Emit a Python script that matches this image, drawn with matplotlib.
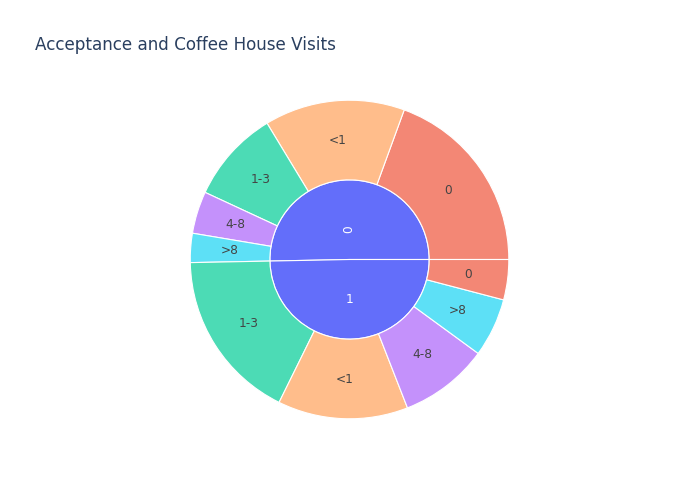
import matplotlib.pyplot as plt
import numpy as np
from matplotlib.colors import to_rgba

# Acceptance (Y) -> coffee house visits per month, counts
acceptance = ["0", "1"]
visits = ["0", "<1", "1-3", "4-8", ">8"]
counts_y0 = [776, 569, 376, 171, 118]
counts_y1 = [163, 528, 695, 361, 238]

visit_colors = {"0": "#EF553B", "<1": "#FFA15A", "1-3": "#00CC96",
                "4-8": "#AB63FA", ">8": "#19D3F3"}
parent_color = "#636EFA"
leaf_opacity = 0.7

plt.rcParams['font.family'] = ['DejaVu Sans']


def main():
    groups = {"0": counts_y0, "1": counts_y1}
    totals = {k: sum(v) for k, v in groups.items()}
    # plotly sorts by value, largest first, counterclockwise from 3 o'clock
    parents = sorted(acceptance, key=lambda k: -totals[k])

    inner_vals = [totals[p] for p in parents]
    outer_vals = []
    outer_labels = []
    for p in parents:
        pairs = sorted(zip(visits, groups[p]), key=lambda t: -t[1])
        for name, val in pairs:
            outer_labels.append(name)
            outer_vals.append(val)
    outer_colors = [to_rgba(visit_colors[n], leaf_opacity) for n in outer_labels]

    fig = plt.figure(figsize=(7, 5), dpi=100)
    ax = fig.add_axes([0.2604, 0.1465, 0.4779, 0.669])

    edge = dict(edgecolor="white", linewidth=0.8)
    ax.pie(inner_vals, radius=0.5, startangle=0, counterclock=True,
           colors=[parent_color] * len(inner_vals), wedgeprops=edge)
    ax.pie(outer_vals, radius=1.0, startangle=0, counterclock=True,
           colors=outer_colors, wedgeprops=dict(width=0.5, **edge))

    total = sum(inner_vals)

    # outer labels
    start = 0.0
    for name, val in zip(outer_labels, outer_vals):
        span = 360.0 * val / total
        mid = np.radians(start + span / 2)
        ax.text(0.753 * np.cos(mid), 0.753 * np.sin(mid), name,
                ha="center", va="center", fontsize=8.7, color="#444444")
        start += span

    # inner labels
    start = 0.0
    for p, val in zip(parents, inner_vals):
        span = 360.0 * val / total
        mid = np.radians(start + span / 2)
        r, rot = (0.19, 90) if p == "0" else (0.25, 0)
        ax.text(r * np.cos(mid), r * np.sin(mid), p, rotation=rot,
                ha="center", va="center", fontsize=8.7, color="white")
        start += span

    ax.set_xlim(-1.05, 1.05)
    ax.set_ylim(-1.05, 1.05)
    ax.set_aspect("equal")
    ax.axis("off")

    fig.text(35 / 700, 1 - 45 / 500, "Acceptance and Coffee House Visits",
             ha="left", va="center", fontsize=12.05, color="#2a3f5f")

    fig.savefig("out.png", dpi=100)


if __name__ == "__main__":
    main()
